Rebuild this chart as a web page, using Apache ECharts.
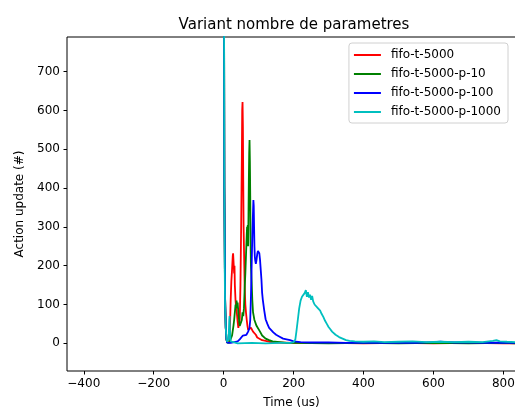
<!DOCTYPE html>
<html>
<head>
<meta charset="utf-8">
<script src="https://cdn.jsdelivr.net/npm/echarts@6/dist/echarts.min.js"></script>
<style>
  html, body { margin: 0; padding: 0; background: #fff; }
  #container { width: 515px; height: 408px; }
</style>
</head>
<body>
<div id="container"></div>
<script>
var dom = document.getElementById('container');
var myChart = echarts.init(dom, null, { renderer: 'canvas', useDirtyRect: false });

var seriesNames = ['fifo-t-5000', 'fifo-t-5000-p-10', 'fifo-t-5000-p-100', 'fifo-t-5000-p-1000'];
var colors = ['#ff0000', '#008000', '#0000ff', '#00bfbf'];

var xTicks = [-400, -200, 0, 200, 400, 600, 800];
var yTicks = [0, 100, 200, 300, 400, 500, 600, 700];

// fifo-t-5000
var redX = [0, 1, 2, 4, 6, 8, 10, 14, 16, 18, 20, 22, 24, 26, 27, 28, 30, 31, 32, 34, 36, 38, 40, 42, 44, 46, 48, 50, 52, 53, 54, 55, 56, 57, 58, 59, 60, 62, 64, 66, 68, 70, 74, 78, 80, 84, 88, 92, 96, 100, 110, 120, 130, 150, 200, 300, 400, 500, 600, 700, 800, 840];
var redY = [1300, 900, 400, 120, 40, 10, 2, 1, 8, 40, 110, 160, 190, 225, 232, 228, 180, 200, 150, 110, 90, 75, 55, 40, 35, 60, 150, 300, 480, 600, 622, 560, 420, 300, 250, 200, 150, 100, 78, 60, 45, 35, 30, 40, 42, 30, 25, 22, 15, 12, 8, 6, 4, 2, 1, 1, 0, 1, 0, 1, 0, 0];

// fifo-t-5000-p-10
var greenX = [0, 1, 2, 4, 6, 8, 10, 16, 20, 24, 28, 30, 32, 34, 36, 37, 38, 40, 42, 44, 46, 48, 50, 52, 54, 56, 58, 60, 62, 64, 66, 67, 68, 69, 70, 71, 72, 73, 74, 75, 76, 77, 78, 80, 82, 84, 86, 88, 90, 94, 98, 104, 110, 120, 130, 140, 160, 180, 200, 300, 400, 500, 600, 700, 800, 840];
var greenY = [1300, 900, 400, 120, 40, 10, 2, 1, 5, 20, 45, 60, 80, 100, 90, 110, 95, 105, 80, 60, 45, 40, 45, 60, 80, 70, 90, 140, 180, 230, 280, 300, 290, 305, 250, 330, 420, 490, 524, 470, 380, 260, 200, 160, 110, 80, 70, 60, 55, 45, 40, 30, 20, 12, 8, 5, 3, 1, 1, 0, 1, 0, 1, 0, 1, 0];

// fifo-t-5000-p-100
var blueX = [0, 1, 2, 4, 6, 8, 10, 20, 30, 40, 46, 50, 55, 60, 65, 70, 74, 76, 78, 80, 82, 84, 85, 86, 87, 88, 89, 90, 92, 94, 96, 98, 100, 102, 104, 106, 108, 110, 112, 116, 120, 125, 130, 136, 142, 150, 160, 170, 180, 190, 200, 220, 250, 300, 350, 400, 450, 500, 550, 600, 620, 640, 660, 700, 750, 800, 840];
var blueY = [1300, 900, 400, 120, 40, 10, 2, 1, 3, 5, 10, 15, 20, 18, 22, 30, 40, 60, 120, 200, 280, 340, 369, 355, 300, 250, 225, 215, 205, 215, 230, 238, 236, 232, 215, 190, 165, 130, 112, 85, 62, 50, 40, 34, 28, 22, 17, 12, 10, 8, 5, 3, 2, 2, 1, 2, 1, 2, 1, 3, 4, 3, 2, 2, 1, 2, 1];

// fifo-t-5000-p-1000
var cyanX = [0, 1, 2, 3, 4, 6, 8, 10, 12, 14, 16, 17, 18, 20, 22, 40, 80, 120, 160, 190, 200, 205, 208, 212, 216, 220, 224, 228, 232, 235, 238, 241, 244, 247, 250, 253, 256, 260, 264, 268, 272, 276, 280, 285, 290, 295, 300, 305, 310, 315, 320, 330, 340, 350, 360, 375, 400, 430, 460, 500, 540, 580, 620, 660, 700, 740, 770, 780, 790, 810, 840];
var cyanY = [1300, 900, 400, 200, 100, 40, 12, 4, 2, 10, 60, 70, 30, 5, 1, 0, 1, 0, 1, 1, 3, 10, 30, 60, 90, 110, 120, 125, 130, 137, 120, 132, 118, 125, 112, 122, 108, 100, 104, 92, 88, 84, 76, 68, 58, 50, 42, 36, 30, 26, 22, 16, 12, 8, 6, 5, 4, 5, 3, 4, 5, 3, 4, 3, 4, 3, 6, 8, 5, 4, 3];

function pairs(xs, ys) {
    return xs.map(function (x, i) { return [x, ys[i]]; });
}

var seriesData = [pairs(redX, redY), pairs(greenX, greenY), pairs(blueX, blueY), pairs(cyanX, cyanY)];

var font = 'DejaVu Sans';

var option = {
    animation: false,
    backgroundColor: '#fff',
    title: {
        text: 'Variant nombre de parametres',
        left: 289,
        top: 13,
        textAlign: 'center',
        textStyle: { fontFamily: font, fontSize: 15, fontWeight: 'normal', color: '#000' }
    },
    legend: {
        orient: 'vertical',
        right: 7,
        top: 43,
        data: seriesNames,
        icon: 'rect',
        itemWidth: 27,
        itemHeight: 2,
        itemGap: 5,
        padding: [5, 7, 4, 5],
        backgroundColor: 'rgba(255,255,255,0.8)',
        borderColor: '#d0d0d0',
        borderWidth: 1,
        borderRadius: 3,
        textStyle: { fontFamily: font, fontSize: 12, color: '#000', lineHeight: 14, padding: [0, 0, 0, 5] }
    },
    grid: {
        left: 67,
        top: 37,
        width: 449,
        height: 334,
        containLabel: false,
        outerBoundsMode: 'none',
        show: true,
        borderColor: '#000',
        borderWidth: 1,
        backgroundColor: 'transparent'
    },
    xAxis: {
        type: 'value',
        min: -448,
        max: 836,
        name: 'Time (us)',
        nameLocation: 'middle',
        nameGap: 26,
        nameTextStyle: { fontFamily: font, fontSize: 12, color: '#000' },
        axisLine: { show: false, onZero: false },
        splitLine: { show: false },
        axisTick: { show: true, length: 3.5, customValues: xTicks, lineStyle: { color: '#000' } },
        axisLabel: {
            customValues: xTicks,
            fontFamily: font, fontSize: 12, color: '#000', margin: 7,
            formatter: function (v) { return String(v).replace('-', '\u2212'); }
        }
    },
    yAxis: {
        type: 'value',
        min: -71.4,
        max: 789.4,
        name: 'Action update (#)',
        nameLocation: 'middle',
        nameGap: 36,
        nameTextStyle: { fontFamily: font, fontSize: 12, color: '#000' },
        axisLine: { show: false, onZero: false },
        splitLine: { show: false },
        axisTick: { show: true, length: 3.5, customValues: yTicks, lineStyle: { color: '#000' } },
        axisLabel: {
            customValues: yTicks,
            fontFamily: font, fontSize: 12, color: '#000', margin: 7
        }
    },
    series: seriesNames.map(function (name, i) {
        return {
            name: name,
            type: 'line',
            data: seriesData[i],
            showSymbol: false,
            clip: true,
            color: colors[i],
            lineStyle: { width: 1.8, color: colors[i] }
        };
    })
};

myChart.setOption(option);
</script>
</body>
</html>
